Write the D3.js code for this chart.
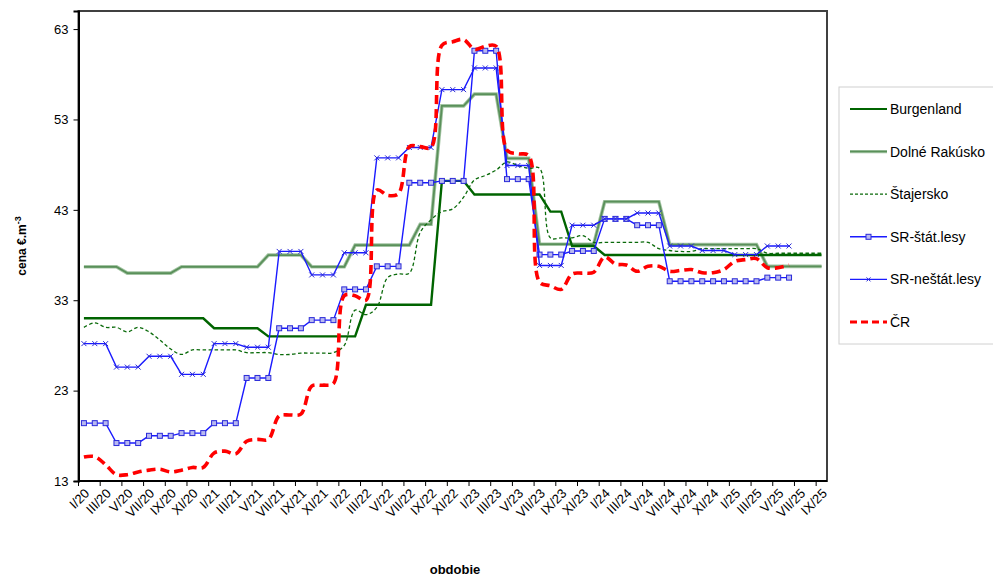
<!DOCTYPE html>
<html lang="sk">
<head>
  <meta charset="UTF-8">
  <title>Ceny dreva</title>
  <script src="https://d3js.org/d3.v7.min.js"></script>
  <style>
    body { margin: 0; background: #fff; font-family: "Liberation Sans", Arial, sans-serif; }
    .tick text { font-family: "Liberation Sans", Arial, sans-serif; }
  </style>
</head>
<body>
  <svg width="993" height="577"></svg>

  <script>
    // mesiace I/20 .. IX/25
    const romans = ["I", "II", "III", "IV", "V", "VI", "VII", "VIII", "IX", "X", "XI", "XII"];
    const years = ["20", "21", "22", "23", "24", "25"];
    const months = [];
    years.forEach(y => romans.forEach(r => months.push(r + "/" + y)));
    months.splice(69); // posledny je IX/25
    const tickLabels = months.filter((m, i) => i % 2 === 0);
    const yTicks = [13, 23, 33, 43, 53, 63];

    const burgenland = [
      31, 31, 31, 31, 31, 31, 31, 31, 31, 31, 31, 31,
      29.9, 29.9, 29.9, 29.9, 29.9, 29, 29, 29, 29, 29, 29, 29,
      29, 29, 32.5, 32.5, 32.5, 32.5, 32.5, 32.5, 32.5, 46.2, 46.2, 46.2,
      44.7, 44.7, 44.7, 44.7, 44.7, 44.7, 44.7, 42.8, 42.8, 39, 39, 39,
      38, 38, 38, 38, 38, 38, 38, 38, 38, 38, 38, 38,
      38, 38, 38, 38, 38, 38, 38, 38, 38
    ];
    const dolneRakusko = [
      36.7, 36.7, 36.7, 36.7, 36, 36, 36, 36, 36, 36.7, 36.7, 36.7,
      36.7, 36.7, 36.7, 36.7, 36.7, 38, 38, 38, 38, 36.7, 36.7, 36.7,
      36.7, 39.1, 39.1, 39.1, 39.1, 39.1, 39.1, 41.4, 41.4, 54.5, 54.5, 54.5,
      55.8, 55.8, 55.8, 48.7, 48.7, 48.7, 39.2, 39.2, 39.2, 39.2, 39.2, 39.2,
      43.9, 43.9, 43.9, 43.9, 43.9, 43.9, 39.15, 39.15, 39.15, 39.15, 39.15, 39.15,
      39.15, 39.15, 39.15, 36.75, 36.75, 36.75, 36.75, 36.75, 36.75
    ];
    const stajersko = [
      30, 30.5, 30, 30, 29.5, 30, 29.5, 28.6, 27.6, 27, 27.5, 27.5,
      27.5, 27.5, 27.5, 27.2, 27.2, 27.2, 27, 27, 27.15, 27.15, 27.15, 27.2,
      28, 31.9, 31.4, 32.2, 35.5, 35.9, 36, 40.5, 41.9, 42.8, 43.1, 44.4,
      46.3, 46.8, 47.4, 48.3, 47.9, 47.6, 47.6, 39.9, 39.9, 39.9, 40.15, 39.4,
      39.4, 39.4, 39.4, 39.4, 39.4, 38.7, 38.5, 38.4, 38.4, 38.7, 38.7, 38.7,
      38.7, 38.7, 38.7, 38.2, 38.2, 38.2, 38.2, 38.2, 38.2
    ];
    const srStat = [
      19.4, 19.4, 19.4, 17.2, 17.2, 17.2, 18, 18, 18, 18.3, 18.3, 18.3,
      19.4, 19.4, 19.4, 24.4, 24.4, 24.4, 29.9, 29.9, 29.9, 30.8, 30.8, 30.8,
      34.2, 34.2, 34.2, 36.75, 36.75, 36.75, 46, 46, 46, 46.2, 46.2, 46.2,
      60.6, 60.6, 60.6, 46.4, 46.4, 46.4, 38.05, 38.05, 38.05, 38.45, 38.45, 38.45,
      42, 42, 42, 41.3, 41.3, 41.3, 35.1, 35.1, 35.1, 35.1, 35.1, 35.1,
      35.1, 35.1, 35.1, 35.5, 35.5, 35.5, null, null, null
    ];
    const srNestat = [
      28.2, 28.2, 28.2, 25.6, 25.6, 25.6, 26.8, 26.8, 26.8, 24.8, 24.8, 24.8,
      28.2, 28.2, 28.2, 27.8, 27.8, 27.8, 38.4, 38.4, 38.4, 35.8, 35.8, 35.8,
      38.25, 38.25, 38.25, 48.75, 48.75, 48.75, 49.9, 49.9, 49.9, 56.3, 56.3, 56.3,
      58.7, 58.7, 58.7, 47.9, 47.9, 47.9, 36.85, 36.85, 36.85, 41.3, 41.3, 41.3,
      42, 42, 42, 42.65, 42.65, 42.65, 39, 39, 39, 38.5, 38.5, 38.5,
      38.05, 38.05, 38.05, 39, 39, 39, null, null, null
    ];
    const cr = [
      15.65, 15.7, 14.8, 13.7, 13.7, 14, 14.2, 14.3, 14, 14.2, 14.5, 14.5,
      16.1, 16.3, 16, 17.4, 17.6, 17.6, 20.2, 20.3, 20.4, 23.5, 23.6, 23.8,
      33.5, 33.5, 33, 45.2, 44.6, 44.8, 50, 50, 49.9, 61.2, 61.6, 61.85,
      60.75, 61.1, 61.1, 49.6, 49.2, 49, 35, 34.6, 34.2, 35.9, 36, 36.1,
      37.8, 37, 36.9, 36.2, 36.75, 36.75, 36.2, 36.3, 36.4, 36.05, 36.05, 36.4,
      37.3, 37.5, 37.6, 36.6, 36.6, 36.9, null, null, null
    ];

    const series = [
      { name: "Burgenland", values: burgenland },
      { name: "Dolné Rakúsko", values: dolneRakusko },
      { name: "Štajersko", values: stajersko },
      { name: "SR-štát.lesy", values: srStat },
      { name: "SR-neštát.lesy", values: srNestat },
      { name: "ČR", values: cr }
    ];

    const svg = d3.select("svg");
    const margin = { top: 11, right: 166, bottom: 96, left: 78.5 };
    const width = +svg.attr("width");
    const height = +svg.attr("height");
    const plotRight = width - margin.right;
    const plotBottom = height - margin.bottom;

    const x = d3.scaleBand()
      .domain(months)
      .range([margin.left, plotRight])
      .padding(0);
    const cx = i => x(months[i]) + x.bandwidth() / 2;

    const y = d3.scaleLinear()
      .domain([13, 65])
      .range([plotBottom, margin.top]);

    // ramik plochy grafu
    svg.append("rect")
      .attr("x", margin.left)
      .attr("y", margin.top)
      .attr("width", plotRight - margin.left)
      .attr("height", plotBottom - margin.top)
      .attr("fill", "none")
      .attr("stroke", "#404040")
      .attr("stroke-width", 2);

    const line = d3.line()
      .defined(d => d != null)
      .x((d, i) => cx(i))
      .y(d => y(d));
    const smooth = d3.line()
      .defined(d => d != null)
      .x((d, i) => cx(i))
      .y(d => y(d))
      .curve(d3.curveCatmullRom.alpha(0.5));

    const g = svg.append("g");

    // Dolne Rakusko - dvojita ciara
    g.append("path")
      .attr("d", line(dolneRakusko))
      .attr("fill", "none")
      .attr("stroke", "#a3c4a3")
      .attr("stroke-width", 3.6);
    g.append("path")
      .attr("d", line(dolneRakusko))
      .attr("fill", "none")
      .attr("stroke", "#5a905a")
      .attr("stroke-width", 1.8);

    g.append("path")
      .attr("d", line(burgenland))
      .attr("fill", "none")
      .attr("stroke", "#006400")
      .attr("stroke-width", 2.4);

    g.append("path")
      .attr("d", smooth(stajersko))
      .attr("fill", "none")
      .attr("stroke", "#0a6a0a")
      .attr("stroke-width", 1.3)
      .attr("stroke-dasharray", "3.5,2.5");

    g.append("path")
      .attr("d", line(srStat))
      .attr("fill", "none")
      .attr("stroke", "#1a1aff")
      .attr("stroke-width", 1.4);
    g.selectAll(".sq")
      .data(srStat.map((v, i) => ({ v, i })).filter(d => d.v != null))
      .join("rect")
      .attr("x", d => cx(d.i) - 2.5)
      .attr("y", d => y(d.v) - 2.5)
      .attr("width", 5)
      .attr("height", 5)
      .attr("fill", "#b8b8f0")
      .attr("stroke", "#2a2ad8")
      .attr("stroke-width", 1);

    g.append("path")
      .attr("d", line(srNestat))
      .attr("fill", "none")
      .attr("stroke", "#1a1aff")
      .attr("stroke-width", 1.4);
    g.selectAll(".xm")
      .data(srNestat.map((v, i) => ({ v, i })).filter(d => d.v != null))
      .join("path")
      .attr("d", d => {
        const px = cx(d.i), py = y(d.v);
        return `M${px - 2.5},${py - 2.5}L${px + 2.5},${py + 2.5}M${px - 2.5},${py + 2.5}L${px + 2.5},${py - 2.5}`;
      })
      .attr("stroke", "#2a2ad8")
      .attr("stroke-width", 1);

    g.append("path")
      .attr("d", smooth(cr))
      .attr("fill", "none")
      .attr("stroke", "#ff0000")
      .attr("stroke-width", 3.6)
      .attr("stroke-dasharray", "9,5");

    // osi
    const yAxis = svg.append("g")
      .attr("transform", `translate(${margin.left},0)`)
      .call(d3.axisLeft(y).tickValues(yTicks).tickSize(5).tickPadding(5));
    yAxis.select(".domain").attr("stroke", "#000").attr("stroke-width", 2);
    yAxis.selectAll("text").attr("font-size", 13).attr("fill", "#000");

    const xAxis = svg.append("g")
      .attr("transform", `translate(0,${plotBottom})`);
    xAxis.append("line")
      .attr("x1", margin.left).attr("x2", plotRight)
      .attr("stroke", "#000").attr("stroke-width", 2);
    xAxis.selectAll(".xt")
      .data(tickLabels)
      .join("line")
      .attr("x1", d => x(d)).attr("x2", d => x(d))
      .attr("y1", 0).attr("y2", 5)
      .attr("stroke", "#000");
    xAxis.selectAll(".xl")
      .data(tickLabels)
      .join("text")
      .attr("transform", d => `translate(${x(d) + x.bandwidth() / 2 + 3},${10}) rotate(-45)`)
      .attr("text-anchor", "end")
      .attr("dy", "0.35em")
      .attr("font-size", 13)
      .text(d => d);

    svg.append("text")
      .attr("x", 455)
      .attr("y", 574)
      .attr("text-anchor", "middle")
      .attr("font-size", 13)
      .attr("font-weight", "bold")
      .text("obdobie");

    const yTitle = svg.append("text")
      .attr("transform", `translate(26,${(margin.top + plotBottom) / 2}) rotate(-90)`)
      .attr("text-anchor", "middle")
      .attr("font-size", 12)
      .attr("font-weight", "bold");
    yTitle.append("tspan").text("cena €.m");
    yTitle.append("tspan").attr("dy", -5).attr("font-size", 9).text("-3");

    // legenda
    const legend = svg.append("g").attr("transform", "translate(839,87)");
    legend.append("rect")
      .attr("width", 160).attr("height", 257)
      .attr("fill", "#fff").attr("stroke", "#d0d0d0");
    const items = legend.selectAll(".item")
      .data(series)
      .join("g")
      .attr("transform", (d, i) => `translate(0,${22 + i * 42.6})`);
    items.each(function (d, i) {
      const it = d3.select(this);
      if (i === 1) {
        it.append("line").attr("x1", 11).attr("x2", 48)
          .attr("stroke", "#a3c4a3").attr("stroke-width", 3.2);
        it.append("line").attr("x1", 11).attr("x2", 48)
          .attr("stroke", "#5a905a").attr("stroke-width", 1.5);
      } else if (i === 0) {
        it.append("line").attr("x1", 11).attr("x2", 48)
          .attr("stroke", "#006400").attr("stroke-width", 2.2);
      } else if (i === 2) {
        it.append("line").attr("x1", 11).attr("x2", 48)
          .attr("stroke", "#0a6a0a").attr("stroke-width", 1.2)
          .attr("stroke-dasharray", "3,2");
      } else if (i === 5) {
        it.append("line").attr("x1", 11).attr("x2", 48)
          .attr("stroke", "#ff0000").attr("stroke-width", 3)
          .attr("stroke-dasharray", "7,4");
      } else {
        it.append("line").attr("x1", 11).attr("x2", 48)
          .attr("stroke", "#1a1aff").attr("stroke-width", 1.4);
        if (i === 3) {
          it.append("rect").attr("x", 27).attr("y", -2.5).attr("width", 5).attr("height", 5)
            .attr("fill", "#b8b8f0").attr("stroke", "#2a2ad8");
        } else {
          it.append("path").attr("d", "M27.5,-2L31.5,2M27.5,2L31.5,-2")
            .attr("stroke", "#2a2ad8");
        }
      }
      it.append("text")
        .attr("x", 51)
        .attr("dy", "0.35em")
        .attr("font-size", 14)
        .text(d.name);
    });
  </script>
</body>
</html>
